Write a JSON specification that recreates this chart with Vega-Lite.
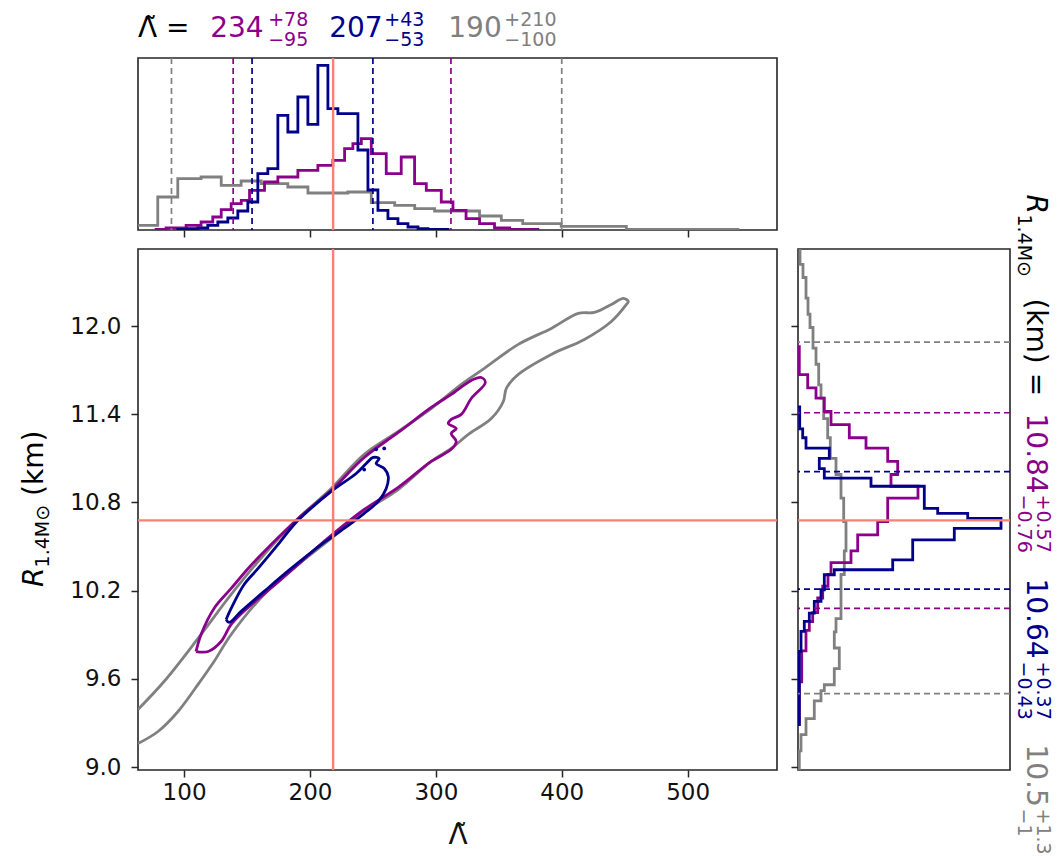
{
  "$schema": "https://vega.github.io/schema/vega-lite/v6.json",
  "background": "white",
  "autosize": {"type": "pad"},
  "padding": {"left": 20, "top": 10, "right": 0, "bottom": 0},
  "datasets": {
    "th": [
      {"series": "gray", "lam": 55, "h": 0}, {"series": "gray", "lam": 55, "h": 4.7}, {"series": "gray", "lam": 79.1, "h": 33}, {"series": "gray", "lam": 95, "h": 51.3}, {"series": "gray", "lam": 113.5, "h": 53}, {"series": "gray", "lam": 129.5, "h": 44.7}, {"series": "gray", "lam": 145.3, "h": 49}, {"series": "gray", "lam": 161.3, "h": 46.3}, {"series": "gray", "lam": 182.4, "h": 43}, {"series": "gray", "lam": 198.4, "h": 37}, {"series": "gray", "lam": 230.1, "h": 38}, {"series": "gray", "lam": 248.7, "h": 27.3}, {"series": "gray", "lam": 267.3, "h": 24.7}, {"series": "gray", "lam": 283.2, "h": 21.3}, {"series": "gray", "lam": 299, "h": 19}, {"series": "gray", "lam": 334.7, "h": 14}, {"series": "gray", "lam": 352, "h": 9.7}, {"series": "gray", "lam": 369, "h": 6.3}, {"series": "gray", "lam": 399.6, "h": 3.7}, {"series": "gray", "lam": 451.3, "h": 0.7}, {"series": "gray", "lam": 540, "h": 0},
      {"series": "purple", "lam": 77.8, "h": 0}, {"series": "purple", "lam": 77.8, "h": 0.7}, {"series": "purple", "lam": 85.7, "h": 2}, {"series": "purple", "lam": 101.6, "h": 4.7}, {"series": "purple", "lam": 113.5, "h": 8}, {"series": "purple", "lam": 122.8, "h": 13}, {"series": "purple", "lam": 129.5, "h": 20.3}, {"series": "purple", "lam": 137.4, "h": 26.3}, {"series": "purple", "lam": 145.4, "h": 29.7}, {"series": "purple", "lam": 152, "h": 39.7}, {"series": "purple", "lam": 163.9, "h": 48}, {"series": "purple", "lam": 174.5, "h": 53}, {"series": "purple", "lam": 190.4, "h": 59.7}, {"series": "purple", "lam": 206.3, "h": 64.7}, {"series": "purple", "lam": 218.2, "h": 69.7}, {"series": "purple", "lam": 227.5, "h": 81.3}, {"series": "purple", "lam": 234.1, "h": 86.3}, {"series": "purple", "lam": 240.8, "h": 91.3}, {"series": "purple", "lam": 248.7, "h": 76.3}, {"series": "purple", "lam": 260.6, "h": 56.3}, {"series": "purple", "lam": 272.5, "h": 73}, {"series": "purple", "lam": 283.1, "h": 46.3}, {"series": "purple", "lam": 292.4, "h": 39.7}, {"series": "purple", "lam": 304.3, "h": 28}, {"series": "purple", "lam": 313.6, "h": 19.7}, {"series": "purple", "lam": 324, "h": 11.3}, {"series": "purple", "lam": 334.7, "h": 6.3}, {"series": "purple", "lam": 346.6, "h": 2}, {"series": "purple", "lam": 358.6, "h": 0.7}, {"series": "purple", "lam": 381, "h": 0},
      {"series": "blue", "lam": 95, "h": 0}, {"series": "blue", "lam": 95, "h": 0.7}, {"series": "blue", "lam": 102.95, "h": 1.3}, {"series": "blue", "lam": 110.9, "h": 2}, {"series": "blue", "lam": 118.85, "h": 4.7}, {"series": "blue", "lam": 126.8, "h": 8}, {"series": "blue", "lam": 134.75, "h": 12}, {"series": "blue", "lam": 142.7, "h": 19}, {"series": "blue", "lam": 150.65, "h": 28}, {"series": "blue", "lam": 158.6, "h": 56.3}, {"series": "blue", "lam": 166.55, "h": 61.3}, {"series": "blue", "lam": 174.5, "h": 114.7}, {"series": "blue", "lam": 182.45, "h": 98}, {"series": "blue", "lam": 190.4, "h": 133}, {"series": "blue", "lam": 198.35, "h": 105.7}, {"series": "blue", "lam": 206.3, "h": 164.7}, {"series": "blue", "lam": 214.25, "h": 121.3}, {"series": "blue", "lam": 222.2, "h": 116.3}, {"series": "blue", "lam": 230.15, "h": 116.3}, {"series": "blue", "lam": 238.1, "h": 80}, {"series": "blue", "lam": 246.05, "h": 40}, {"series": "blue", "lam": 254, "h": 19.7}, {"series": "blue", "lam": 261.95, "h": 11.3}, {"series": "blue", "lam": 269.9, "h": 6.3}, {"series": "blue", "lam": 277.85, "h": 3}, {"series": "blue", "lam": 285.8, "h": 1.3}, {"series": "blue", "lam": 293.75, "h": 0.7}, {"series": "blue", "lam": 309.65, "h": 0}
    ],
    "rh": [
      {"series": "gray", "v": 0, "r": 12.6}, {"series": "gray", "v": 2, "r": 12.6}, {"series": "gray", "v": 5, "r": 12.42}, {"series": "gray", "v": 8, "r": 12.33}, {"series": "gray", "v": 10, "r": 12.19}, {"series": "gray", "v": 12, "r": 12.08}, {"series": "gray", "v": 15, "r": 11.99}, {"series": "gray", "v": 18, "r": 11.85}, {"series": "gray", "v": 20.7, "r": 11.74}, {"series": "gray", "v": 23, "r": 11.6}, {"series": "gray", "v": 25.7, "r": 11.51}, {"series": "gray", "v": 29.7, "r": 11.37}, {"series": "gray", "v": 32.3, "r": 11.24}, {"series": "gray", "v": 38, "r": 11.1}, {"series": "gray", "v": 43, "r": 10.99}, {"series": "gray", "v": 45.7, "r": 10.83}, {"series": "gray", "v": 48, "r": 10.67}, {"series": "gray", "v": 46.3, "r": 10.47}, {"series": "gray", "v": 43, "r": 10.31}, {"series": "gray", "v": 38, "r": 10.01}, {"series": "gray", "v": 36.3, "r": 9.92}, {"series": "gray", "v": 41.3, "r": 9.81}, {"series": "gray", "v": 36.3, "r": 9.67}, {"series": "gray", "v": 26.3, "r": 9.56}, {"series": "gray", "v": 23, "r": 9.52}, {"series": "gray", "v": 16.3, "r": 9.45}, {"series": "gray", "v": 8, "r": 9.33}, {"series": "gray", "v": 3, "r": 9.22}, {"series": "gray", "v": 1.3, "r": 9.11}, {"series": "gray", "v": 0, "r": 8.9},
      {"series": "purple", "v": 0, "r": 11.86}, {"series": "purple", "v": 1.3, "r": 11.86}, {"series": "purple", "v": 9.7, "r": 11.67}, {"series": "purple", "v": 18, "r": 11.58}, {"series": "purple", "v": 26.3, "r": 11.51}, {"series": "purple", "v": 33, "r": 11.42}, {"series": "purple", "v": 51.3, "r": 11.33}, {"series": "purple", "v": 68, "r": 11.24}, {"series": "purple", "v": 89.7, "r": 11.17}, {"series": "purple", "v": 99.7, "r": 11.08}, {"series": "purple", "v": 93, "r": 10.99}, {"series": "purple", "v": 120, "r": 10.91}, {"series": "purple", "v": 89.7, "r": 10.83}, {"series": "purple", "v": 79.7, "r": 10.67}, {"series": "purple", "v": 59.7, "r": 10.58}, {"series": "purple", "v": 53, "r": 10.47}, {"series": "purple", "v": 33, "r": 10.39}, {"series": "purple", "v": 30, "r": 10.31}, {"series": "purple", "v": 24.7, "r": 10.23}, {"series": "purple", "v": 19.7, "r": 10.15}, {"series": "purple", "v": 14.7, "r": 10.05}, {"series": "purple", "v": 11.3, "r": 9.99}, {"series": "purple", "v": 8, "r": 9.93}, {"series": "purple", "v": 3.7, "r": 9.79}, {"series": "purple", "v": 1.3, "r": 9.58}, {"series": "purple", "v": 0, "r": 9.29},
      {"series": "blue", "v": 0, "r": 11.45}, {"series": "blue", "v": 1.7, "r": 11.45}, {"series": "blue", "v": 4.7, "r": 11.3}, {"series": "blue", "v": 8, "r": 11.24}, {"series": "blue", "v": 31.3, "r": 11.17}, {"series": "blue", "v": 21.3, "r": 11.1}, {"series": "blue", "v": 26.3, "r": 11.03}, {"series": "blue", "v": 73, "r": 10.965}, {"series": "blue", "v": 126.3, "r": 10.91}, {"series": "blue", "v": 139.7, "r": 10.76}, {"series": "blue", "v": 169.7, "r": 10.726}, {"series": "blue", "v": 203, "r": 10.692}, {"series": "blue", "v": 156.3, "r": 10.624}, {"series": "blue", "v": 114.7, "r": 10.545}, {"series": "blue", "v": 94.7, "r": 10.41}, {"series": "blue", "v": 36.3, "r": 10.342}, {"series": "blue", "v": 26.3, "r": 10.308}, {"series": "blue", "v": 23, "r": 10.206}, {"series": "blue", "v": 16.3, "r": 10.127}, {"series": "blue", "v": 11.3, "r": 10.047}, {"series": "blue", "v": 6.3, "r": 9.991}, {"series": "blue", "v": 3, "r": 9.923}, {"series": "blue", "v": 1.3, "r": 9.787}, {"series": "blue", "v": 0, "r": 9.288}
    ],
    "ct": [
      {"series": "gray", "lam": 63.4, "r": 9.392}, {"series": "gray", "lam": 84.1, "r": 9.582}, {"series": "gray", "lam": 111.1, "r": 9.875}, {"series": "gray", "lam": 137.4, "r": 10.174}, {"series": "gray", "lam": 163.6, "r": 10.446}, {"series": "gray", "lam": 190.6, "r": 10.691}, {"series": "gray", "lam": 216.9, "r": 10.895}, {"series": "gray", "lam": 243.1, "r": 11.127}, {"series": "gray", "lam": 270.1, "r": 11.283}, {"series": "gray", "lam": 296.3, "r": 11.439}, {"series": "gray", "lam": 320.2, "r": 11.603}, {"series": "gray", "lam": 338.5, "r": 11.712}, {"series": "gray", "lam": 365.5, "r": 11.875}, {"series": "gray", "lam": 391.7, "r": 11.984}, {"series": "gray", "lam": 413.2, "r": 12.086}, {"series": "gray", "lam": 425.9, "r": 12.093}, {"series": "gray", "lam": 439.4, "r": 12.147}, {"series": "gray", "lam": 449, "r": 12.188}, {"series": "gray", "lam": 452.9, "r": 12.167}, {"series": "gray", "lam": 451.4, "r": 12.147}, {"series": "gray", "lam": 439.4, "r": 12.031}, {"series": "gray", "lam": 418, "r": 11.909}, {"series": "gray", "lam": 391.7, "r": 11.807}, {"series": "gray", "lam": 365.5, "r": 11.671}, {"series": "gray", "lam": 356, "r": 11.576}, {"series": "gray", "lam": 353.6, "r": 11.487}, {"series": "gray", "lam": 344, "r": 11.371}, {"series": "gray", "lam": 325.8, "r": 11.263}, {"series": "gray", "lam": 312.2, "r": 11.167}, {"series": "gray", "lam": 296.3, "r": 11.079}, {"series": "gray", "lam": 270.1, "r": 10.888}, {"series": "gray", "lam": 243.1, "r": 10.739}, {"series": "gray", "lam": 216.9, "r": 10.555}, {"series": "gray", "lam": 190.6, "r": 10.378}, {"series": "gray", "lam": 163.6, "r": 10.174}, {"series": "gray", "lam": 137.4, "r": 9.902}, {"series": "gray", "lam": 123.8, "r": 9.718}, {"series": "gray", "lam": 111.1, "r": 9.562}, {"series": "gray", "lam": 95.2, "r": 9.378}, {"series": "gray", "lam": 79.3, "r": 9.242}, {"series": "gray", "lam": 63.4, "r": 9.16},
      {"series": "purple", "lam": 109.5, "r": 9.786}, {"series": "purple", "lam": 113.5, "r": 9.902}, {"series": "purple", "lam": 123.8, "r": 10.079}, {"series": "purple", "lam": 137.4, "r": 10.215}, {"series": "purple", "lam": 150.9, "r": 10.351}, {"series": "purple", "lam": 169.2, "r": 10.514}, {"series": "purple", "lam": 190.6, "r": 10.691}, {"series": "purple", "lam": 216.9, "r": 10.882}, {"series": "purple", "lam": 243.1, "r": 11.106}, {"series": "purple", "lam": 270.1, "r": 11.276}, {"series": "purple", "lam": 296.3, "r": 11.446}, {"series": "purple", "lam": 312.2, "r": 11.535}, {"series": "purple", "lam": 328.1, "r": 11.63}, {"series": "purple", "lam": 336.1, "r": 11.65}, {"series": "purple", "lam": 339.3, "r": 11.616}, {"series": "purple", "lam": 328.1, "r": 11.507}, {"series": "purple", "lam": 320.2, "r": 11.399}, {"series": "purple", "lam": 312.2, "r": 11.365}, {"series": "purple", "lam": 309.9, "r": 11.337}, {"series": "purple", "lam": 316.2, "r": 11.303}, {"series": "purple", "lam": 312.2, "r": 11.269}, {"series": "purple", "lam": 316.2, "r": 11.215}, {"series": "purple", "lam": 312.2, "r": 11.161}, {"series": "purple", "lam": 296.3, "r": 11.079}, {"series": "purple", "lam": 270.1, "r": 10.902}, {"series": "purple", "lam": 243.1, "r": 10.752}, {"series": "purple", "lam": 211.3, "r": 10.535}, {"series": "purple", "lam": 190.6, "r": 10.378}, {"series": "purple", "lam": 171.5, "r": 10.235}, {"series": "purple", "lam": 150.9, "r": 10.086}, {"series": "purple", "lam": 137.4, "r": 9.97}, {"series": "purple", "lam": 129.4, "r": 9.854}, {"series": "purple", "lam": 119.1, "r": 9.786}, {"series": "purple", "lam": 109.5, "r": 9.786},
      {"series": "blue", "lam": 133.4, "r": 10.004}, {"series": "blue", "lam": 137.4, "r": 10.079}, {"series": "blue", "lam": 147.7, "r": 10.242}, {"series": "blue", "lam": 158.8, "r": 10.351}, {"series": "blue", "lam": 174.7, "r": 10.514}, {"series": "blue", "lam": 187.4, "r": 10.65}, {"series": "blue", "lam": 195.4, "r": 10.718}, {"series": "blue", "lam": 216.9, "r": 10.875}, {"series": "blue", "lam": 236.7, "r": 10.997}, {"series": "blue", "lam": 244.7, "r": 11.065}, {"series": "blue", "lam": 250.2, "r": 11.106}, {"series": "blue", "lam": 255, "r": 11.099}, {"series": "blue", "lam": 252.6, "r": 11.065}, {"series": "blue", "lam": 259, "r": 11.031}, {"series": "blue", "lam": 262.2, "r": 10.977}, {"series": "blue", "lam": 260.6, "r": 10.895}, {"series": "blue", "lam": 254.2, "r": 10.807}, {"series": "blue", "lam": 243.1, "r": 10.725}, {"series": "blue", "lam": 232.7, "r": 10.657}, {"series": "blue", "lam": 211.3, "r": 10.528}, {"series": "blue", "lam": 185.1, "r": 10.351}, {"series": "blue", "lam": 163.6, "r": 10.195}, {"series": "blue", "lam": 145.3, "r": 10.059}, {"series": "blue", "lam": 135.8, "r": 9.984}, {"series": "blue", "lam": 133.4, "r": 10.004}
    ],
    "dots": [
      {"series": "blue", "lam": 243.1, "r": 11.024}, {"series": "blue", "lam": 252.6, "r": 11.161}, {"series": "blue", "lam": 259, "r": 11.167}
    ],
    "ci": [
      {"series": "purple", "param": "lambda", "val": 139}, {"series": "purple", "param": "lambda", "val": 312},
      {"series": "blue", "param": "lambda", "val": 154}, {"series": "blue", "param": "lambda", "val": 250},
      {"series": "gray", "param": "lambda", "val": 90}, {"series": "gray", "param": "lambda", "val": 400},
      {"series": "purple", "param": "radius", "val": 10.08}, {"series": "purple", "param": "radius", "val": 11.41},
      {"series": "blue", "param": "radius", "val": 10.21}, {"series": "blue", "param": "radius", "val": 11.01},
      {"series": "gray", "param": "radius", "val": 9.5}, {"series": "gray", "param": "radius", "val": 11.89}
    ],
    "truth": [{"lam": 218.4, "r": 10.678}],
    "ttxt": [
      {"t": "\u039b\u0303 =", "kind": "main", "series": "black", "lam": 63.4, "lvl": 193},
      {"t": "234", "kind": "main", "series": "purple", "lam": 120.7, "lvl": 193},
      {"t": "+78", "kind": "script", "series": "purple", "lam": 166.8, "lvl": 204},
      {"t": "\u221295", "kind": "script", "series": "purple", "lam": 166.8, "lvl": 184},
      {"t": "207", "kind": "main", "series": "blue", "lam": 215.3, "lvl": 193},
      {"t": "+43", "kind": "script", "series": "blue", "lam": 259, "lvl": 204},
      {"t": "\u221253", "kind": "script", "series": "blue", "lam": 259, "lvl": 184},
      {"t": "190", "kind": "main", "series": "gray", "lam": 309.9, "lvl": 193},
      {"t": "+210", "kind": "script", "series": "gray", "lam": 354.4, "lvl": 204},
      {"t": "\u2212100", "kind": "script", "series": "gray", "lam": 354.4, "lvl": 184}
    ],
    "rtxt": [
      {"t": "R", "kind": "ital", "series": "black", "r": 12.895, "v": 229},
      {"t": "1.4M\u2299", "kind": "script", "series": "black", "r": 12.759, "v": 220},
      {"t": "(km) =", "kind": "main", "series": "black", "r": 12.188, "v": 229},
      {"t": "10.84", "kind": "main", "series": "purple", "r": 11.405, "v": 229},
      {"t": "+0.57", "kind": "script", "series": "purple", "r": 10.854, "v": 239},
      {"t": "\u22120.76", "kind": "script", "series": "purple", "r": 10.854, "v": 220},
      {"t": "10.64", "kind": "main", "series": "blue", "r": 10.283, "v": 229},
      {"t": "+0.37", "kind": "script", "series": "blue", "r": 9.718, "v": 239},
      {"t": "\u22120.43", "kind": "script", "series": "blue", "r": 9.718, "v": 220},
      {"t": "10.5", "kind": "main", "series": "gray", "r": 9.154, "v": 229},
      {"t": "+1.3", "kind": "script", "series": "gray", "r": 8.718, "v": 239},
      {"t": "\u22121", "kind": "script", "series": "gray", "r": 8.718, "v": 220}
    ],
    "ytxt": [
      {"t": "R", "kind": "ital", "series": "black", "lam": -12.1, "r": 10.225},
      {"t": "1.4M\u2299", "kind": "script", "series": "black", "lam": -7.3, "r": 10.358},
      {"t": "(km)", "kind": "main", "series": "black", "lam": -12.1, "r": 10.844}
    ]
  },
  "spacing": 19,
  "bounds": "flush",
  "resolve": {"scale": {"x": "independent", "y": "independent", "color": "independent"}},
  "vconcat": [
    {
      "width": 639,
      "height": 172,
      "layer": [
        {
          "data": {"name": "th"},
          "mark": {"type": "line", "interpolate": "step-after", "strokeWidth": 2.8, "clip": true},
          "encoding": {
            "x": {"field": "lam", "type": "quantitative", "scale": {"domain": [63.4, 571], "nice": false, "zero": false}, "axis": {"values": [100, 200, 300, 400, 500], "labels": false, "title": null}},
            "y": {"field": "h", "type": "quantitative", "scale": {"domain": [0, 172], "nice": false, "zero": false}, "axis": null},
            "color": {"field": "series", "type": "nominal", "scale": {"domain": ["purple", "blue", "gray", "black"], "range": ["#8b008b", "#00008b", "#808080", "#000000"]}, "legend": null},
            "order": {"value": null}
          }
        },
        {
          "data": {"name": "ci"},
          "transform": [{"filter": "datum.param === 'lambda'"}],
          "mark": {"type": "rule", "strokeDash": [6, 4], "strokeWidth": 1.7},
          "encoding": {
            "x": {"field": "val", "type": "quantitative"},
            "color": {"field": "series", "type": "nominal", "legend": null}
          }
        },
        {
          "data": {"name": "truth"},
          "mark": {"type": "rule", "color": "#fa8072", "strokeWidth": 2.4},
          "encoding": {"x": {"field": "lam", "type": "quantitative"}}
        },
        {
          "data": {"name": "ttxt"},
          "transform": [{"filter": "datum.kind === 'main'"}],
          "mark": {"type": "text", "align": "left", "baseline": "alphabetic", "fontSize": 28},
          "encoding": {
            "x": {"field": "lam", "type": "quantitative"},
            "y": {"field": "lvl", "type": "quantitative", "axis": null},
            "text": {"field": "t"},
            "color": {"field": "series", "type": "nominal", "legend": null}
          }
        },
        {
          "data": {"name": "ttxt"},
          "transform": [{"filter": "datum.kind === 'script'"}],
          "mark": {"type": "text", "align": "left", "baseline": "alphabetic", "fontSize": 19},
          "encoding": {
            "x": {"field": "lam", "type": "quantitative"},
            "y": {"field": "lvl", "type": "quantitative", "axis": null},
            "text": {"field": "t"},
            "color": {"field": "series", "type": "nominal", "legend": null}
          }
        }
      ]
    },
    {
      "spacing": 21,
      "bounds": "flush",
      "resolve": {"scale": {"x": "independent", "y": "independent", "color": "independent"}},
      "hconcat": [
        {
          "width": 639,
          "height": 521,
          "layer": [
            {
              "data": {"name": "ct"},
              "mark": {"type": "line", "interpolate": "catmull-rom", "strokeWidth": 2.8, "clip": true},
              "encoding": {
                "x": {"field": "lam", "type": "quantitative", "scale": {"domain": [63.4, 571], "nice": false, "zero": false}, "axis": {"values": [100, 200, 300, 400, 500], "title": "\u039b\u0303", "titleFontSize": 28, "titlePadding": 17, "labelPadding": 4}},
                "y": {"field": "r", "type": "quantitative", "scale": {"domain": [8.98, 12.524], "nice": false, "zero": false}, "axis": {"values": [9.0, 9.6, 10.2, 10.8, 11.4, 12.0], "format": ".1f", "labelPadding": 10, "title": null}},
                "color": {"field": "series", "type": "nominal", "scale": {"domain": ["purple", "blue", "gray", "black"], "range": ["#8b008b", "#00008b", "#808080", "#000000"]}, "legend": null},
                "order": {"value": null}
              }
            },
            {
              "data": {"name": "dots"},
              "mark": {"type": "point", "filled": true, "size": 14, "opacity": 1},
              "encoding": {
                "x": {"field": "lam", "type": "quantitative"},
                "y": {"field": "r", "type": "quantitative"},
                "color": {"field": "series", "type": "nominal", "legend": null}
              }
            },
            {
              "data": {"name": "truth"},
              "mark": {"type": "rule", "color": "#fa8072", "strokeWidth": 2.4},
              "encoding": {"x": {"field": "lam", "type": "quantitative"}}
            },
            {
              "data": {"name": "truth"},
              "mark": {"type": "rule", "color": "#fa8072", "strokeWidth": 2.4},
              "encoding": {"y": {"field": "r", "type": "quantitative"}}
            },
            {
              "data": {"name": "ytxt"},
              "transform": [{"filter": "datum.kind === 'ital'"}],
              "mark": {"type": "text", "align": "left", "baseline": "alphabetic", "fontSize": 28, "fontStyle": "italic", "angle": 270},
              "encoding": {
                "x": {"field": "lam", "type": "quantitative"},
                "y": {"field": "r", "type": "quantitative"},
                "text": {"field": "t"},
                "color": {"field": "series", "type": "nominal", "legend": null}
              }
            },
            {
              "data": {"name": "ytxt"},
              "transform": [{"filter": "datum.kind === 'script'"}],
              "mark": {"type": "text", "align": "left", "baseline": "alphabetic", "fontSize": 19, "angle": 270},
              "encoding": {
                "x": {"field": "lam", "type": "quantitative"},
                "y": {"field": "r", "type": "quantitative"},
                "text": {"field": "t"},
                "color": {"field": "series", "type": "nominal", "legend": null}
              }
            },
            {
              "data": {"name": "ytxt"},
              "transform": [{"filter": "datum.kind === 'main'"}],
              "mark": {"type": "text", "align": "left", "baseline": "alphabetic", "fontSize": 28, "angle": 270},
              "encoding": {
                "x": {"field": "lam", "type": "quantitative"},
                "y": {"field": "r", "type": "quantitative"},
                "text": {"field": "t"},
                "color": {"field": "series", "type": "nominal", "legend": null}
              }
            }
          ]
        },
        {
          "width": 212,
          "height": 521,
          "layer": [
            {
              "data": {"name": "rh"},
              "mark": {"type": "line", "interpolate": "step-before", "strokeWidth": 2.8, "clip": true},
              "encoding": {
                "x": {"field": "v", "type": "quantitative", "scale": {"domain": [0, 212], "nice": false, "zero": false}, "axis": null},
                "y": {"field": "r", "type": "quantitative", "scale": {"domain": [8.98, 12.524], "nice": false, "zero": false}, "axis": {"values": [9.0, 9.6, 10.2, 10.8, 11.4, 12.0], "labels": false, "title": null}},
                "color": {"field": "series", "type": "nominal", "scale": {"domain": ["purple", "blue", "gray", "black"], "range": ["#8b008b", "#00008b", "#808080", "#000000"]}, "legend": null},
                "order": {"value": null}
              }
            },
            {
              "data": {"name": "ci"},
              "transform": [{"filter": "datum.param === 'radius'"}],
              "mark": {"type": "rule", "strokeDash": [6, 4], "strokeWidth": 1.7},
              "encoding": {
                "y": {"field": "val", "type": "quantitative"},
                "color": {"field": "series", "type": "nominal", "legend": null}
              }
            },
            {
              "data": {"name": "truth"},
              "mark": {"type": "rule", "color": "#fa8072", "strokeWidth": 2.4},
              "encoding": {"y": {"field": "r", "type": "quantitative"}}
            },
            {
              "data": {"name": "rtxt"},
              "transform": [{"filter": "datum.kind === 'ital'"}],
              "mark": {"type": "text", "align": "left", "baseline": "alphabetic", "fontSize": 28, "fontStyle": "italic", "angle": 90},
              "encoding": {
                "x": {"field": "v", "type": "quantitative", "axis": null},
                "y": {"field": "r", "type": "quantitative"},
                "text": {"field": "t"},
                "color": {"field": "series", "type": "nominal", "legend": null}
              }
            },
            {
              "data": {"name": "rtxt"},
              "transform": [{"filter": "datum.kind === 'main'"}],
              "mark": {"type": "text", "align": "left", "baseline": "alphabetic", "fontSize": 28, "angle": 90},
              "encoding": {
                "x": {"field": "v", "type": "quantitative", "axis": null},
                "y": {"field": "r", "type": "quantitative"},
                "text": {"field": "t"},
                "color": {"field": "series", "type": "nominal", "legend": null}
              }
            },
            {
              "data": {"name": "rtxt"},
              "transform": [{"filter": "datum.kind === 'script'"}],
              "mark": {"type": "text", "align": "left", "baseline": "alphabetic", "fontSize": 19, "angle": 90},
              "encoding": {
                "x": {"field": "v", "type": "quantitative", "axis": null},
                "y": {"field": "r", "type": "quantitative"},
                "text": {"field": "t"},
                "color": {"field": "series", "type": "nominal", "legend": null}
              }
            }
          ]
        }
      ]
    }
  ],
  "config": {
    "font": "DejaVu Sans",
    "view": {"stroke": "#262626", "strokeWidth": 1.6},
    "axis": {"grid": false, "domain": false, "tickColor": "#262626", "tickWidth": 1.5, "tickSize": 7, "labelFont": "DejaVu Sans", "labelFontSize": 23, "labelColor": "#111111", "titleFont": "DejaVu Sans", "titleFontWeight": "normal", "titleColor": "#111111"},
    "text": {"font": "DejaVu Sans"}
  }
}
